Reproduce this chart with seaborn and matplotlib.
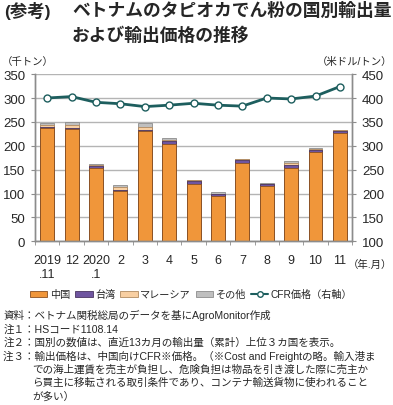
import numpy as np
import matplotlib
matplotlib.use('Agg')
import matplotlib.pyplot as plt
import seaborn as sns
from matplotlib.patches import Patch
from matplotlib.lines import Line2D

# データ（千トン、米ドル/トン）
months = ['2019\n.11', '12', '2020\n.1', '2', '3', '4', '5', '6', '7', '8', '9', '10', '11']
china = [237, 235, 154, 105, 231, 204, 121, 94, 164, 115, 154, 187, 227]
taiwan = [3, 3, 4, 3, 3, 5, 6, 5, 7, 5, 6, 5, 5]
malaysia = [3, 5, 1, 5, 6, 3, 1, 1, 1, 1, 4, 1, 0.5]
other = [5, 7, 2, 6, 8, 4, 1, 3, 1, 1, 4, 3, 0.5]
cfr = [400, 403, 391, 388, 382, 385, 389, 385, 383, 400, 398, 404, 424]

series = ['中国', '台湾', 'マレーシア', 'その他']
colors = ['#f0963a', '#6f55a0', '#f8cfa2', '#bfbfbf']
edges = ['#8a5020', '#4a3560', '#b08a60', '#8c8c8c']
line_color = '#1d5e5e'

sns.set_style('white')
plt.rcParams['font.family'] = ['Liberation Sans', 'Noto Sans CJK JP']

fig = plt.figure(figsize=(3.93, 4.06), dpi=100)
ax = fig.add_axes([0.089, 0.403, 0.807, 0.412])

# 積み上げ（上から順に重ね描き）
stack = np.array([china, taiwan, malaysia, other], dtype=float)
cum = np.cumsum(stack, axis=0)
for i in range(3, -1, -1):
    sns.barplot(x=months, y=cum[i], color=colors[i], saturation=1, width=0.57,
                edgecolor=edges[i], linewidth=0.6, ax=ax, zorder=2)

ax.set_ylim(0, 350)
ax.set_yticks(range(0, 351, 50))
ax.yaxis.grid(True, color='#b4b4b4', linewidth=1, zorder=0)
ax.set_axisbelow(True)
ax.set_xlabel('')
ax.set_ylabel('')

ax2 = ax.twinx()
sns.lineplot(x=np.arange(len(months)), y=cfr, ax=ax2, color=line_color, linewidth=2,
             marker='o', markersize=5, markerfacecolor='white',
             markeredgecolor=line_color, markeredgewidth=1, zorder=3)
ax2.set_ylim(100, 450)
ax2.set_yticks(range(100, 451, 50))
ax2.set_ylabel('')
ax.set_xlim(-0.5, len(months) - 0.5)

for a in (ax, ax2):
    a.spines['top'].set_visible(False)
    for s in ['left', 'right', 'bottom']:
        a.spines[s].set_color('#8c8c8c')
        a.spines[s].set_linewidth(1)

ax.tick_params(axis='y', left=True, length=3, color='#8c8c8c', labelsize=9.5, pad=4)
ax2.tick_params(axis='y', right=True, length=3, color='#8c8c8c', labelsize=9.5, pad=4)
ax.tick_params(axis='x', length=0, labelsize=9, pad=9)
ax.set_xticks(np.arange(-0.5, len(months), 1), minor=True)
ax.tick_params(axis='x', which='minor', bottom=True, length=3, color='#8c8c8c')

# タイトル
fig.text(0.01, 0.972, '(参考)', fontsize=12.5, fontweight='bold', va='center', ha='left')
fig.text(0.183, 0.972, 'ベトナムのタピオカでん粉の国別輸出量', fontsize=12.8,
         fontweight='bold', va='center', ha='left')
fig.text(0.183, 0.91, 'および輸出価格の推移', fontsize=12.8, fontweight='bold',
         va='center', ha='left')

fig.text(0.005, 0.847, '（千トン）', fontsize=7.5, va='center', ha='left')
fig.text(0.998, 0.847, '（米ドル/トン）', fontsize=7.5, va='center', ha='right')
fig.text(0.998, 0.347, '（年.月）', fontsize=7.5, va='center', ha='right')

# 凡例
handles = [Patch(facecolor=colors[i], edgecolor=edges[i], linewidth=0.6) for i in range(4)]
handles.append(Line2D([0], [0], color=line_color, linewidth=1.5, marker='o', markersize=4,
                      markerfacecolor='white', markeredgecolor=line_color))
labels = series + ['CFR価格（右軸）']
fig.legend(handles, labels, loc='center', bbox_to_anchor=(0.487, 0.273), ncol=5,
           frameon=False, fontsize=7.3, handlelength=1.7, handleheight=0.55,
           handletextpad=0.25, columnspacing=0.5)

# 注記
notes = [
    (0.008, 0.222, '資料：ベトナム関税総局のデータを基にAgroMonitor作成'),
    (0.008, 0.189, '注１：HSコード1108.14'),
    (0.008, 0.155, '注２：国別の数値は、直近13カ月の輸出量（累計）上位３カ国を表示。'),
    (0.008, 0.123, '注３：輸出価格は、中国向けCFR※価格。（※Cost and Freightの略。輸入港ま'),
    (0.082, 0.089, 'での海上運賃を売主が負担し、危険負担は物品を引き渡した際に売主か'),
    (0.082, 0.057, 'ら買主に移転される取引条件であり、コンテナ輸送貨物に使われること'),
    (0.082, 0.023, 'が多い）'),
]
for x, y, t in notes:
    fig.text(x, y, t, fontsize=7.6, va='center', ha='left')

fig.savefig('out.png', dpi=100)
